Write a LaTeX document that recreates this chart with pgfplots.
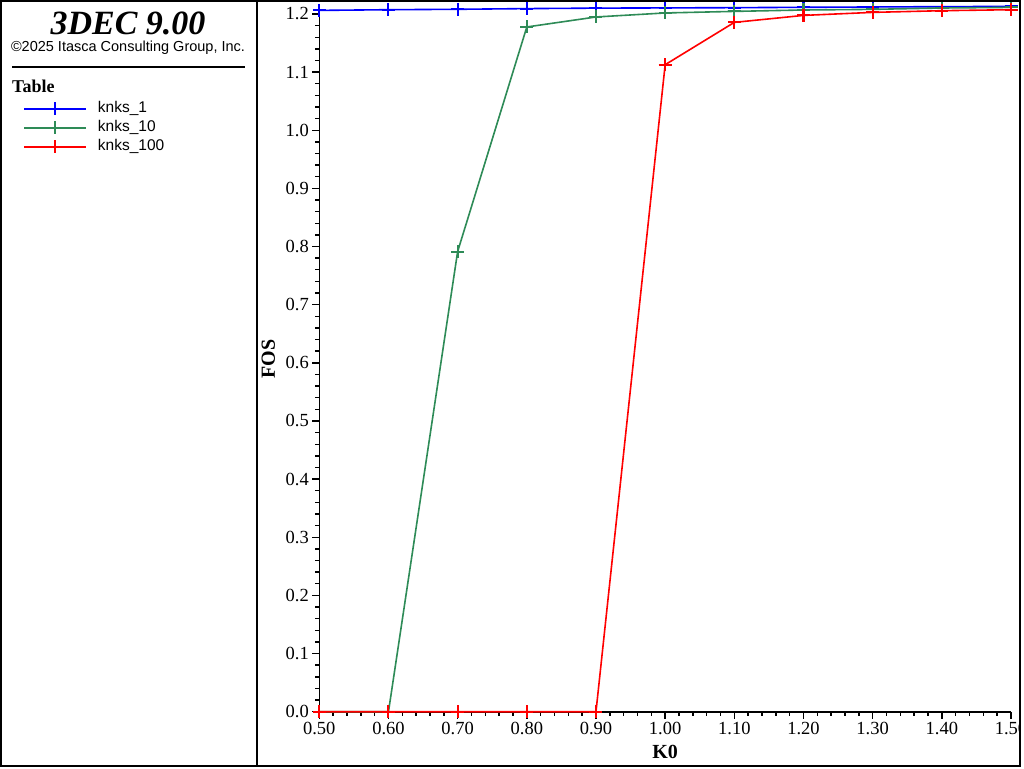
\documentclass[border=0pt]{standalone}
\usepackage{fontspec}
\setmainfont{Liberation Serif}
\newfontfamily\sansf{Liberation Sans}
\usepackage{pgfplots}
\pgfplotsset{compat=1.18}
\definecolor{myblue}{RGB}{0,0,255}
\definecolor{mygreen}{RGB}{46,139,87}
\definecolor{myred}{RGB}{255,0,0}
\begin{document}
\begin{tikzpicture}[x=1pt,y=1pt]
\useasboundingbox (0,0) rectangle (1024,768);
\fill[white] (0,0) rectangle (1024,768);
\begin{scope}
\clip (0,0) rectangle (1019,768);
\begin{axis}[
  at={(319.3pt,56.3pt)}, anchor=south west,
  scale only axis, width=691.7pt, height=705.3pt,
  xmin=0.5, xmax=1.5, ymin=0, ymax=1.213,
  axis x line*=bottom, axis y line*=left,
  axis line style={line width=1.6pt, black},
  tick align=outside,
  major tick length=7pt, minor tick length=4pt,
  every tick/.style={black, line width=1.4pt},
  xtick={0.5,0.6,0.7,0.8,0.9,1.0,1.1,1.2,1.3,1.4,1.5},
  xticklabels={0.50,0.60,0.70,0.80,0.90,1.00,1.10,1.20,1.30,1.40,1.50},
  ytick={0,0.1,0.2,0.3,0.4,0.5,0.6,0.7,0.8,0.9,1.0,1.1,1.2},
  yticklabels={0.0,0.1,0.2,0.3,0.4,0.5,0.6,0.7,0.8,0.9,1.0,1.1,1.2},
  minor x tick num=4, minor y tick num=4,
  tick label style={font=\fontsize{18.5}{18.5}\selectfont},
  xlabel={\textbf{K0}}, ylabel={\textbf{FOS}},
  label style={font=\fontsize{20}{20}\selectfont},
  xlabel style={at={(axis description cs:0.5,0)}, yshift=-40pt, anchor=center},
  ylabel style={at={(axis description cs:-0.0737,0.5)}, anchor=center},
  clip=false,
  legend style={at={(axis description cs:-0.4284,0.866)}, anchor=north west,
    draw=none, fill=none, inner sep=0pt, row sep=4pt,
    font=\sansf\fontsize{15.5}{15.5}\selectfont,
    nodes={text height=11pt, text depth=4pt, inner xsep=0pt, inner ysep=0pt},
    /tikz/every odd column/.append style={column sep=11pt}},
  legend cell align=left,
  legend image code/.code={\draw[line width=1.8pt, mark repeat=2,mark phase=2] plot coordinates {(0pt,0pt) (31pt,0pt) (62pt,0pt)};},
  every axis plot/.append style={line width=1.6pt, mark=+, mark size=6.5pt, mark options={solid, line width=2pt}},
]
\addplot[myblue] coordinates {(0.5,1.2061) (0.6,1.2073) (0.7,1.2080) (0.8,1.2092) (0.9,1.2100) (1.0,1.2104) (1.1,1.2108) (1.2,1.2114) (1.3,1.2120) (1.4,1.2125) (1.5,1.2130)};
\addlegendentry{knks\_1}
\addplot[mygreen] coordinates {(0.5,0) (0.6,0) (0.7,0.7914) (0.8,1.1776) (0.9,1.1948) (1.0,1.2017) (1.1,1.2044) (1.2,1.2068) (1.3,1.2079) (1.4,1.2102) (1.5,1.2113)};
\addlegendentry{knks\_10}
\addplot[myred] coordinates {(0.5,0) (0.6,0) (0.7,0) (0.8,0) (0.9,0) (1.0,1.1127) (1.1,1.1855) (1.2,1.1975) (1.3,1.2027) (1.4,1.2056) (1.5,1.2073)};
\addlegendentry{knks\_100}
\end{axis}
\end{scope}
\node[font=\bfseries\itshape\fontsize{34}{34}\selectfont] at (128,745) {3DEC 9.00};
\node[font=\sansf\fontsize{14.5}{14.5}\selectfont] at (128,720) {©2025 Itasca Consulting Group, Inc.};
\draw[line width=2pt] (12,701) -- (245,701);
\node[anchor=west, inner sep=0pt, font=\bfseries\fontsize{18}{18}\selectfont] at (12,682) {Table};
\draw[line width=2pt] (1,2) rectangle (1020,767);
\draw[line width=2pt] (257,2) -- (257,767);
\end{tikzpicture}
\end{document}
